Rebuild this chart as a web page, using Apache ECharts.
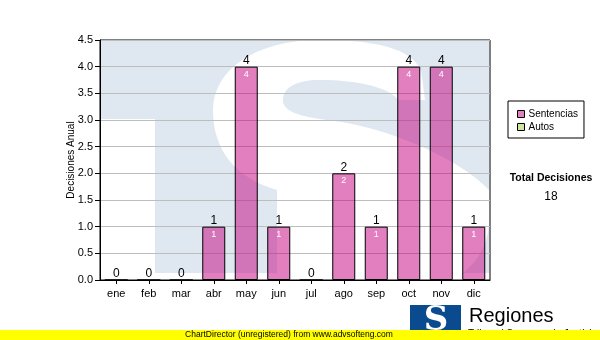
<!DOCTYPE html>
<html>
<head>
<meta charset="utf-8">
<script src="https://cdn.jsdelivr.net/npm/echarts@6/dist/echarts.min.js"></script>
<style>html,body{margin:0;padding:0;background:#fff}#c{width:600px;height:340px}</style>
</head>
<body>
<div id="c"></div>
<script>
const months = ['ene','feb','mar','abr','may','jun','jul','ago','sep','oct','nov','dic'];
const sentencias = [0,0,0,1,4,1,0,2,1,4,4,1];
const autos = [0,0,0,0,0,0,0,0,0,0,0,0];
const seriesNames = ['Sentencias','Autos'];
const yTickLabels = ['0.0','0.5','1.0','1.5','2.0','2.5','3.0','3.5','4.0','4.5'];
const yAxisTitle = 'Decisiones Anual';
const totalTitle = 'Total Decisiones';
const footerText = 'ChartDirector (unregistered) from www.advsofteng.com';
const logoTitle = 'Regiones';
const logoSubtitle = 'Tribunal Supremo de Justicia';

const totals = sentencias.map((v, i) => v + autos[i]);
const grandTotal = totals.reduce((a, b) => a + b, 0);

const FONT = '"Liberation Sans", Arial, sans-serif';

// watermark outline helpers (decoration only)
function bez(p0, p1, p2, p3, n) {
  const out = [];
  for (let k = 1; k <= n; k++) {
    const t = k / n, u = 1 - t;
    out.push([
      u*u*u*p0[0] + 3*u*u*t*p1[0] + 3*u*t*t*p2[0] + t*t*t*p3[0],
      u*u*u*p0[1] + 3*u*u*t*p1[1] + 3*u*t*t*p2[1] + t*t*t*p3[1]
    ]);
  }
  return out;
}
function buildPath(start, segs) {
  let pts = [start], cur = start;
  segs.forEach(s => {
    if (s.length === 1) { pts.push(s[0]); cur = s[0]; }
    else { pts = pts.concat(bez(cur, s[0], s[1], s[2], 16)); cur = s[2]; }
  });
  return pts;
}
const sPoints = buildPath([425,100], [
  [[421,70]],
  [[410,48],[375,40],[320,40]],
  [[255,40],[213,70],[213,110]],
  [[213,150],[235,178],[277,190]],
  [[277,285]],
  [[440,285]],
  [[470,275],[489,250],[489,220]],
  [[489,190]],
  [[455,155],[385,128],[335,121]],
  [[300,117],[283,112],[283,100]],
  [[283,88],[295,80],[320,80]],
  [[360,80],[390,88],[398,100]]
]);

const chart = echarts.init(document.getElementById('c'), null, {renderer: 'canvas'});
chart.setOption({
  backgroundColor: '#ffffff',
  animation: false,
  textStyle: {fontFamily: FONT},
  grid: {left: 100, right: 110, top: 40, bottom: 60, show: true, borderColor: '#000', borderWidth: 1, backgroundColor: 'transparent'},
  legend: {
    data: seriesNames,
    orient: 'vertical',
    left: 508, top: 101,
    padding: [8, 6, 6, 9],
    itemWidth: 7, itemHeight: 7, itemGap: 3,
    icon: 'rect',
    borderColor: '#000', borderWidth: 1, backgroundColor: '#fff',
    selectedMode: false,
    itemStyle: {borderColor: '#000', borderWidth: 1},
    textStyle: {fontSize: 10, color: '#000', fontFamily: FONT, padding: [0,0,0,-1]}
  },
  xAxis: {
    type: 'category',
    data: months,
    axisLine: {lineStyle: {color: '#000', width: 1}},
    axisTick: {show: true, alignWithLabel: true, length: 4, lineStyle: {color: '#000'}},
    axisLabel: {fontSize: 11, color: '#000', margin: 8, fontFamily: FONT},
    splitLine: {show: false}
  },
  yAxis: {
    type: 'value',
    min: 0, max: 4.5, interval: 0.5,
    name: yAxisTitle,
    nameLocation: 'middle',
    nameGap: 24,
    nameMoveOverlap: false,
    nameTextStyle: {fontSize: 10, color: '#000', fontFamily: FONT},
    axisLine: {show: true, lineStyle: {color: '#000', width: 1}},
    axisTick: {show: true, length: 5, lineStyle: {color: '#000'}},
    axisLabel: {fontSize: 11, color: '#000', margin: 7, fontFamily: FONT,
      formatter: v => yTickLabels[Math.round(v / 0.5)]},
    splitLine: {show: true, lineStyle: {color: '#bdbdbd', width: 1}}
  },
  series: [
    {
      name: seriesNames[0], type: 'bar', stack: 'total', data: sentencias,
      barWidth: 23,
      itemStyle: {color: 'rgba(196,0,128,0.5)', borderColor: '#000', borderWidth: 1},
      label: {show: true, position: 'insideTop', distance: 3, fontSize: 9, color: '#fff', fontFamily: FONT,
        formatter: p => p.value > 0 ? String(p.value) : ''},
      emphasis: {disabled: true}
    },
    {
      name: seriesNames[1], type: 'bar', stack: 'total', data: autos,
      barWidth: 23,
      itemStyle: {color: '#cde69b', borderColor: '#000', borderWidth: 0},
      label: {show: true, position: 'top', distance: 0, fontSize: 12, color: '#000', fontFamily: FONT,
        formatter: p => String(totals[p.dataIndex])},
      emphasis: {disabled: true}
    }
  ],
  graphic: [
    {type: 'polygon', z: -10, silent: true,
      shape: {points: [[101,41],[489,41],[489,273],[155,273],[155,119],[101,119]]},
      style: {fill: '#dfe8f1'}},
    {type: 'polygon', z: -9, silent: true,
      shape: {points: sPoints},
      style: {fill: '#ffffff'}},
    {type: 'text', x: 551, y: 178, z: 10,
      style: {text: totalTitle, font: 'bold 10.5px ' + FONT, fill: '#000', align: 'center', verticalAlign: 'middle'}},
    {type: 'text', x: 551, y: 197, z: 10,
      style: {text: String(grandTotal), font: '12px ' + FONT, fill: '#000', align: 'center', verticalAlign: 'middle'}},
    {type: 'rect', z: 10, shape: {x: 410, y: 305, width: 51, height: 26}, style: {fill: '#0a4a8e'}},
    {type: 'text', x: 436, y: 321, z: 11,
      style: {text: 'S', font: 'bold 34px "DejaVu Serif", serif', fill: '#fff', align: 'center', verticalAlign: 'middle'}},
    {type: 'text', x: 469, y: 316, z: 10,
      style: {text: logoTitle, font: '20px ' + FONT, fill: '#000', align: 'left', verticalAlign: 'middle'}},
    {type: 'text', x: 468, y: 334, z: 10,
      style: {text: logoSubtitle, font: '10px ' + FONT, fill: '#000', align: 'left', verticalAlign: 'middle'}},
    {type: 'rect', z: 20, shape: {x: 0, y: 330, width: 600, height: 10}, style: {fill: '#ffff00'}},
    {type: 'text', x: 289, y: 335, z: 21,
      style: {text: footerText, font: '8.5px ' + FONT, fill: '#000', align: 'center', verticalAlign: 'middle'}}
  ]
});
</script>
</body>
</html>
